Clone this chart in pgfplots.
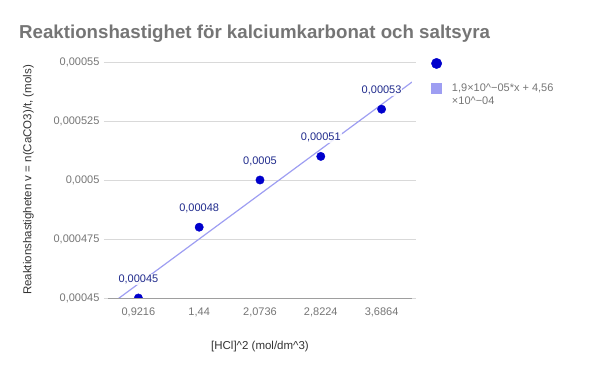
\documentclass[border=0pt]{standalone}
\usepackage{fontspec}
\setmainfont{Liberation Sans}
\usepackage{pgfplots}
\pgfplotsset{compat=1.18}
\definecolor{txtgray}{HTML}{757575}
\definecolor{titlegray}{HTML}{757575}
\definecolor{ptblue}{HTML}{0000CC}
\definecolor{lblblue}{HTML}{1F2A8C}
\definecolor{trend}{HTML}{9E9EF2}
\definecolor{gridc}{HTML}{D9D9D9}
\begin{document}
\begin{tikzpicture}
\begin{axis}[
  at={(0pt,0pt)}, anchor=south west,
  width=304pt, height=236pt, scale only axis,
  xmin=-0.5, xmax=4.5,
  ymin=0.00045, ymax=0.00055,
  scaled y ticks=false,
  xtick={0,1,2,3,4},
  xticklabels={{0,9216},{1,44},{2,0736},{2,8224},{3,6864}},
  ytick={0.00045,0.000475,0.0005,0.000525,0.00055},
  yticklabels={{0,00045},{0,000475},{0,0005},{0,000525},{0,00055}},
  ymajorgrids, major grid style={gridc, line width=0.6pt},
  axis line style={draw=none},
  axis x line*=bottom,
  x axis line style={draw=txtgray!70, line width=0.8pt},
  xtick style={draw=none},
  ytick style={draw=gridc, line width=0.6pt},
  tick align=outside, major tick length=4pt,
  ticklabel style={font=\fontsize{11}{13}\selectfont, text=txtgray},
  xticklabel style={yshift=-2pt},
  yticklabel style={xshift=-1pt},
  xlabel={[HCl]\^{}2 (mol/dm\^{}3)},
  ylabel={Reaktionshastigheten v = n(CaCO3)/t, (mols)},
  label style={font=\fontsize{11.5}{13}\selectfont, text=black!80},
  xlabel style={yshift=-18pt},
  ylabel style={yshift=13pt},
  clip=true, clip marker paths=true,
  legend style={at={(1.0,1.0)}, anchor=north west, xshift=19pt, yshift=6pt, draw=none, fill=none,
    inner sep=0pt, font=\fontsize{11}{13.5}\selectfont, text=txtgray, row sep=11pt,
    cells={anchor=north west},
    /tikz/every odd column/.append style={column sep=8pt}},
  legend cell align=left,
]
\addplot[trend, line width=1.2pt, forget plot] coordinates {(-0.5,0.0004465) (4.5,0.0005415)};
\addplot[only marks, mark=*, mark size=4.2pt, mark options={fill=ptblue, draw=ptblue},
  legend image code/.code={\fill[ptblue] (5pt,0pt) circle (5.2pt);},
  nodes near coords, point meta=explicit symbolic,
  every node near coord/.append style={font=\fontsize{11}{13}\selectfont, text=lblblue, fill=white, fill opacity=0.85, text opacity=1, inner sep=1pt, yshift=13pt}]
  coordinates {
  (0,0.00045) [{0,00045}]
  (1,0.00048) [{0,00048}]
  (2,0.0005) [{0,0005}]
  (3,0.00051) [{0,00051}]
  (4,0.00053) [{0,00053}]
};
\addlegendentry{\rule{0pt}{9pt}}
\addlegendimage{legend image code/.code={\fill[trend] (0pt,-5pt) rectangle (10pt,5pt);}}
\addlegendentry{\parbox[t]{130pt}{\raggedright 1,9×10\^{}−05*x + 4,56\\×10\^{}−04}}
\end{axis}
\node[anchor=base west, font=\bfseries\fontsize{18.7}{20}\selectfont, text=titlegray, inner sep=0pt] at (-89pt,259pt) {Reaktionshastighet för kalciumkarbonat och saltsyra};
\pgfresetboundingbox
\path[use as bounding box] (-108pt,-73pt) rectangle (492pt,298pt);
\end{tikzpicture}
\end{document}
